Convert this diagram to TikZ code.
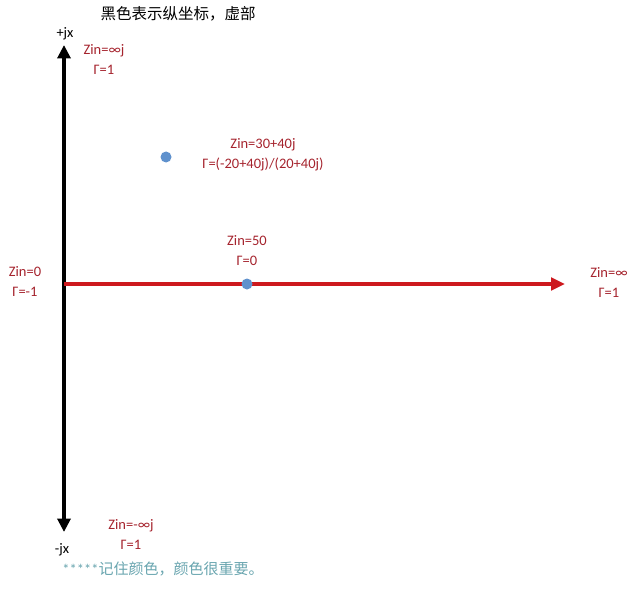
\documentclass[tikz,border=0pt]{standalone}
\usepackage{fontspec}
\setmainfont{Carlito}
\newfontfamily\cjk{Noto Sans CJK SC}
\usepackage{xcolor}
\usetikzlibrary{arrows.meta}
\definecolor{labelred}{RGB}{165,35,45}
\definecolor{axisred}{RGB}{205,25,30}
\definecolor{dotblue}{RGB}{95,145,205}
\definecolor{notecyan}{RGB}{105,165,175}
\tikzset{>=Triangle}

\begin{document}
\begin{tikzpicture}[x=1pt,y=-1pt,
labelnode/.style={align=center, text=labelred, font=\fontsize{14.5}{20}\selectfont, inner sep=0pt},
axisnode/.style={font=\fontsize{14.5}{18}\selectfont, inner sep=0pt},
dotnode/.style={circle, fill=dotblue, minimum size=11pt, inner sep=0pt},
]
\useasboundingbox (0,0) rectangle (637,615);
%Nodes
\coordinate (Origin) at (64,284);
\coordinate (Top) at (64,45);
\coordinate (Bottom) at (64,532);
\coordinate (Right) at (565,284);
\node[axisnode](Title) at (178,14){\cjk\fontsize{15.5}{18}\selectfont 黑色表示纵坐标，虚部};
\node[axisnode](Plus jx) at (65,34){+jx};
\node[axisnode](Minus jx) at (62,550){-jx};
\node[labelnode](Inf j) at (104,60){Zin=∞j\\ Γ=1};
\node[labelnode](Minus inf j) at (131,535){Zin=-∞j\\ Γ=1};
\node[labelnode](Short) at (25,282){Zin=0\\ Γ=-1};
\node[labelnode](Open) at (609,283){Zin=∞\\ Γ=1};
\node[labelnode](Match) at (247,251){Zin=50\\ Γ=0};
\node[labelnode](Complex) at (263,155){Zin=30+40j\\ Γ=(-20+40j)/(20+40j)};
\node[dotnode](Complex dot) at (166,157){};
\node[axisnode, text=notecyan](Note) at (163,569){*****\cjk\fontsize{15}{18}\selectfont 记住颜色，颜色很重要。};

%Lines
\draw[<->, line width=3.8pt, >={Triangle[width=13pt,length=13.5pt]}] (Bottom) -- (Top);
\draw[->, line width=3.8pt, axisred, >={Triangle[width=12.5pt,length=14pt]}] (Origin) -- (Right);
\node[dotnode](Match dot) at (247,284){};
\end{tikzpicture}
\end{document}
